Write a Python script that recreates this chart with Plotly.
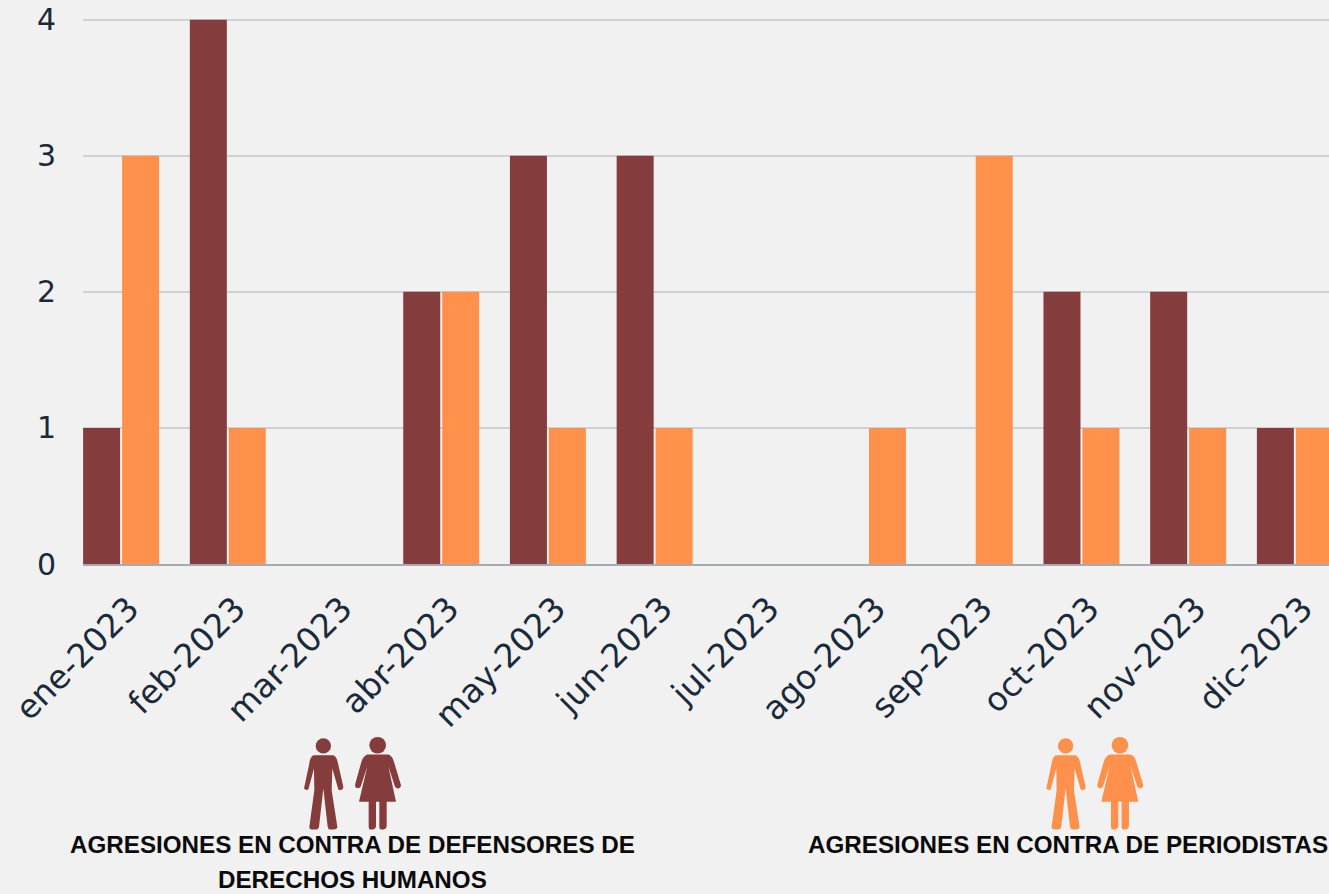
import re
import plotly.graph_objects as go

W, H = 1329, 894
ML, MR, MT, MB = 83, 0, 16.775, 329.5

meses = ["ene-2023", "feb-2023", "mar-2023", "abr-2023", "may-2023", "jun-2023",
         "jul-2023", "ago-2023", "sep-2023", "oct-2023", "nov-2023", "dic-2023"]
defensores = [1, 4, 0, 2, 3, 3, 0, 0, 0, 2, 2, 1]
periodistas = [3, 1, 0, 2, 1, 1, 0, 1, 3, 1, 1, 1]
y_ticks = [0, 1, 2, 3, 4]

COL_D = "#843C3C"
COL_P = "#FF914D"
BG = "#F1F1F1"
TXT = "#1B2A3B"

MAN = ("M70,75 L130,75 Q140,80 143,95 L160,170 Q160,180 150,180 L145,178 L127,115 L125,180 "
       "L142,290 Q142,298 130,298 L118,298 Q115,298 113,290 L100,175 L87,290 Q85,298 80,298 "
       "L65,298 Q58,298 58,290 L73,180 L72,115 L55,178 Q48,182 42,175 L58,100 Q60,80 70,75 Z")
WOMAN = ("M232,73 L295,73 Q308,78 312,95 L333,165 Q332,175 322,175 L315,170 L295,108 L318,215 "
         "L290,215 L290,290 Q288,298 280,298 L272,298 Q268,298 268,290 L268,215 L258,215 L258,290 "
         "Q256,298 248,298 L240,298 Q236,298 236,290 L236,215 L207,215 L232,108 L212,170 "
         "Q208,176 198,173 Q194,168 196,160 L215,92 Q220,78 232,73 Z")


def px(x):
    return (x - ML) / (W - ML - MR)


def py(y):
    return 1 - (y - MT) / (H - MT - MB)


def conv(path, dx):
    def rep(m):
        x = 290 + float(m.group(1)) / 3 + dx
        y = 731 + float(m.group(2)) / 3
        return f"{px(x):.5f},{py(y):.5f}"
    return re.sub(r"(\d+),(\d+)", rep, path)


def circle(cx, cy, r, dx, color):
    x = 290 + cx / 3 + dx
    y = 731 + cy / 3
    rr = r / 3
    return dict(type="circle", xref="paper", yref="paper", line_width=0, fillcolor=color,
                x0=px(x - rr), x1=px(x + rr), y0=py(y + rr), y1=py(y - rr))


shapes = []
for dx, color in ((0, COL_D), (742.3, COL_P)):
    for p in (MAN, WOMAN):
        shapes.append(dict(type="path", xref="paper", yref="paper", path=conv(p, dx),
                           fillcolor=color, line_width=0))
    shapes.append(circle(100, 47, 23, dx, color))
    shapes.append(circle(263, 45, 25, dx, color))

fig = go.Figure()
fig.add_bar(x=meses, y=defensores, name="Defensores", marker_color=COL_D, marker_line_width=0)
fig.add_bar(x=meses, y=periodistas, name="Periodistas", marker_color=COL_P, marker_line_width=0)

lab = dict(family="Liberation Sans", size=24.2, color="#0A0A0A")
annotations = [
    dict(text="<b>AGRESIONES EN CONTRA DE DEFENSORES DE</b>", x=px(352.5), y=py(845)),
    dict(text="<b>DERECHOS HUMANOS</b>", x=px(352.5), y=py(880.5)),
    dict(text="<b>AGRESIONES EN CONTRA DE PERIODISTAS</b>", x=px(1068), y=py(845)),
]
for a in annotations:
    a.update(xref="paper", yref="paper", showarrow=False, font=lab, xanchor="center", yanchor="middle")

fig.update_layout(
    width=W, height=H, autosize=False,
    margin=dict(l=ML, r=MR, t=MT, b=MB, pad=0),
    paper_bgcolor=BG, plot_bgcolor=BG,
    barmode="group", bargap=0.27, bargroupgap=0.05,
    showlegend=False, shapes=shapes, annotations=annotations,
    xaxis=dict(type="category", range=[-0.357, 11.32], tickangle=-45, ticks="", showgrid=False,
               tickfont=dict(family="DejaVu Sans", size=33, color=TXT), showline=True,
               linecolor="#A5ABB2", linewidth=2, ticklabelshift=8, ticklabelstandoff=10),
    yaxis=dict(range=[0, 4.02], tickvals=y_ticks, ticks="", gridcolor="#CDD0D4", gridwidth=1.5,
               zeroline=False, tickfont=dict(family="DejaVu Sans", size=30, color=TXT),
               ticklabelstandoff=26),
)

fig.write_html("out.html", config=dict(displayModeBar=False),
               post_script="document.body.style.margin='0';document.body.style.background='%s';" % BG)
